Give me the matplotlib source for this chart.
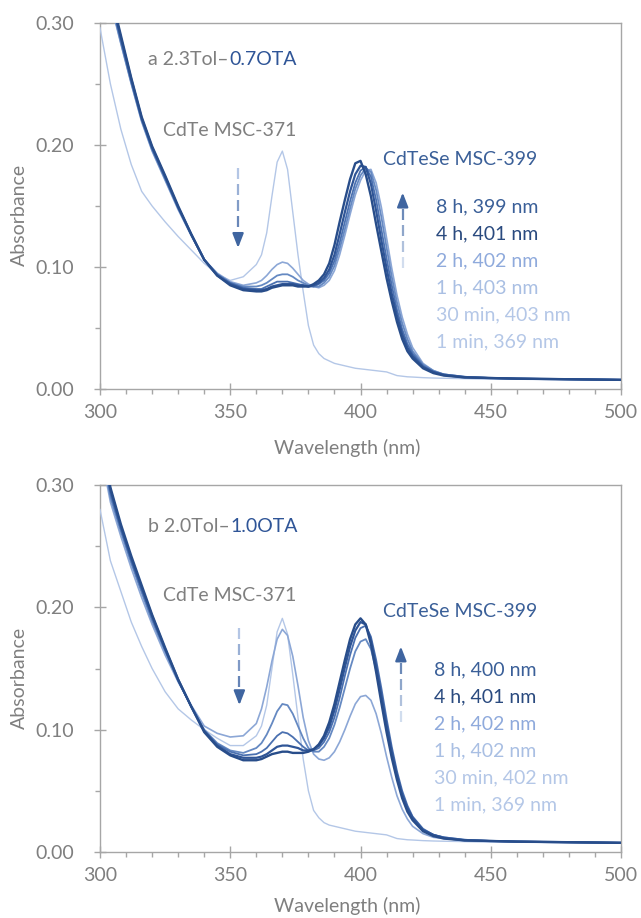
import matplotlib
matplotlib.use('Agg')
import matplotlib.pyplot as plt
import numpy as np
from matplotlib.ticker import MultipleLocator, FormatStrFormatter
from matplotlib.colors import to_rgb

plt.rcParams['font.family'] = ['Lato', 'DejaVu Sans']

# ---------------- data ----------------
wavelength = [300, 304, 308, 312, 316, 320, 325, 330, 335, 340, 345, 350, 355, 360,
              362, 364, 366, 368, 370, 372, 374, 376, 378, 380, 382, 384, 386, 388, 390,
              392, 394, 396, 398, 400, 402, 404, 406, 408, 410, 412, 414, 416, 418, 420,
              424, 428, 432, 440, 450, 460, 480, 500]

series_labels_top = ['8 h, 399 nm', '4 h, 401 nm', '2 h, 402 nm', '1 h, 403 nm',
                     '30 min, 403 nm', '1 min, 369 nm']
series_labels_bot = ['8 h, 400 nm', '4 h, 401 nm', '2 h, 402 nm', '1 h, 402 nm',
                     '30 min, 402 nm', '1 min, 369 nm']

top_8h = [0.365, 0.325, 0.290, 0.255, 0.223, 0.199, 0.175, 0.150, 0.127, 0.106, 0.093, 0.085, 0.081, 0.080,
          0.080, 0.081, 0.083, 0.084, 0.085, 0.085, 0.085, 0.084, 0.084, 0.084, 0.086, 0.089, 0.094, 0.103, 0.118,
          0.137, 0.155, 0.172, 0.185, 0.187, 0.176, 0.158, 0.135, 0.113, 0.091, 0.072, 0.055, 0.041, 0.031, 0.025,
          0.017, 0.013, 0.011, 0.0095, 0.009, 0.0085, 0.008, 0.0075]
top_4h = [0.362, 0.323, 0.288, 0.254, 0.222, 0.198, 0.174, 0.149, 0.127, 0.106, 0.093, 0.086, 0.082, 0.081,
          0.081, 0.082, 0.084, 0.085, 0.086, 0.086, 0.086, 0.085, 0.085, 0.084, 0.085, 0.087, 0.091, 0.098, 0.110,
          0.127, 0.145, 0.162, 0.176, 0.183, 0.182, 0.168, 0.146, 0.122, 0.099, 0.078, 0.060, 0.045, 0.034, 0.027,
          0.018, 0.014, 0.0115, 0.0095, 0.009, 0.0085, 0.008, 0.0075]
top_2h = [0.360, 0.321, 0.286, 0.252, 0.221, 0.197, 0.173, 0.149, 0.127, 0.106, 0.094, 0.087, 0.083, 0.082,
          0.082, 0.084, 0.086, 0.088, 0.088, 0.088, 0.087, 0.086, 0.085, 0.084, 0.084, 0.086, 0.089, 0.095, 0.105,
          0.120, 0.137, 0.154, 0.169, 0.179, 0.182, 0.174, 0.155, 0.131, 0.107, 0.085, 0.065, 0.049, 0.037, 0.029,
          0.019, 0.014, 0.012, 0.010, 0.009, 0.0085, 0.008, 0.0075]
top_1h = [0.358, 0.319, 0.284, 0.251, 0.220, 0.196, 0.172, 0.148, 0.126, 0.106, 0.094, 0.087, 0.084, 0.084,
          0.085, 0.087, 0.090, 0.093, 0.094, 0.094, 0.092, 0.089, 0.087, 0.085, 0.084, 0.084, 0.087, 0.092, 0.101,
          0.115, 0.131, 0.148, 0.164, 0.175, 0.181, 0.178, 0.163, 0.141, 0.116, 0.092, 0.071, 0.054, 0.041, 0.031,
          0.020, 0.015, 0.012, 0.010, 0.009, 0.0085, 0.008, 0.0075]
top_30min = [0.356, 0.317, 0.283, 0.250, 0.219, 0.195, 0.171, 0.147, 0.126, 0.106, 0.095, 0.088, 0.085, 0.087,
             0.089, 0.093, 0.098, 0.102, 0.104, 0.103, 0.099, 0.094, 0.089, 0.086, 0.084, 0.083, 0.085, 0.089, 0.097,
             0.110, 0.126, 0.143, 0.159, 0.171, 0.179, 0.180, 0.169, 0.149, 0.124, 0.099, 0.077, 0.059, 0.045, 0.034,
             0.021, 0.015, 0.012, 0.010, 0.009, 0.0085, 0.008, 0.0075]
top_1min = [0.296, 0.250, 0.213, 0.184, 0.162, 0.150, 0.137, 0.125, 0.114, 0.103, 0.094, 0.089, 0.092, 0.102,
            0.110, 0.128, 0.158, 0.186, 0.195, 0.180, 0.145, 0.110, 0.080, 0.052, 0.036, 0.029, 0.025, 0.023, 0.021,
            0.020, 0.019, 0.018, 0.017, 0.0165, 0.016, 0.0155, 0.015, 0.0145, 0.014, 0.0125, 0.011, 0.0105, 0.010, 0.0098,
            0.0093, 0.009, 0.0088, 0.0085, 0.008, 0.008, 0.0075, 0.0075]

bot_8h = [0.345, 0.298, 0.268, 0.242, 0.218, 0.194, 0.167, 0.141, 0.119, 0.098, 0.086, 0.079, 0.075, 0.075,
          0.076, 0.078, 0.080, 0.081, 0.082, 0.082, 0.081, 0.081, 0.081, 0.082, 0.084, 0.088, 0.095, 0.106, 0.121,
          0.139, 0.157, 0.174, 0.186, 0.191, 0.186, 0.170, 0.147, 0.122, 0.098, 0.077, 0.059, 0.044, 0.033, 0.026,
          0.017, 0.013, 0.011, 0.0095, 0.009, 0.0085, 0.008, 0.0075]
bot_4h = [0.342, 0.296, 0.266, 0.240, 0.216, 0.193, 0.166, 0.141, 0.119, 0.099, 0.087, 0.080, 0.077, 0.077,
          0.078, 0.080, 0.083, 0.086, 0.087, 0.087, 0.086, 0.085, 0.083, 0.083, 0.084, 0.087, 0.093, 0.102, 0.116,
          0.133, 0.151, 0.168, 0.181, 0.188, 0.186, 0.173, 0.152, 0.128, 0.104, 0.082, 0.063, 0.047, 0.036, 0.028,
          0.018, 0.014, 0.0115, 0.0095, 0.009, 0.0085, 0.008, 0.0075]
bot_2h = [0.338, 0.293, 0.264, 0.238, 0.214, 0.191, 0.165, 0.140, 0.119, 0.099, 0.088, 0.082, 0.079, 0.080,
          0.082, 0.085, 0.090, 0.095, 0.098, 0.097, 0.094, 0.090, 0.086, 0.083, 0.083, 0.085, 0.090, 0.098, 0.110,
          0.126, 0.144, 0.161, 0.175, 0.183, 0.185, 0.176, 0.157, 0.134, 0.109, 0.086, 0.066, 0.050, 0.038, 0.029,
          0.019, 0.014, 0.012, 0.010, 0.009, 0.0085, 0.008, 0.0075]
bot_1h = [0.334, 0.290, 0.262, 0.236, 0.212, 0.189, 0.164, 0.140, 0.119, 0.100, 0.089, 0.083, 0.081, 0.085,
          0.089, 0.096, 0.105, 0.115, 0.121, 0.120, 0.113, 0.103, 0.093, 0.085, 0.082, 0.082, 0.086, 0.093, 0.104,
          0.118, 0.134, 0.150, 0.164, 0.172, 0.174, 0.166, 0.149, 0.127, 0.104, 0.082, 0.063, 0.048, 0.036, 0.028,
          0.018, 0.014, 0.012, 0.010, 0.009, 0.0085, 0.008, 0.0075]
bot_30min = [0.330, 0.286, 0.258, 0.232, 0.208, 0.186, 0.161, 0.139, 0.120, 0.103, 0.097, 0.094, 0.095, 0.105,
             0.117, 0.135, 0.156, 0.174, 0.182, 0.177, 0.160, 0.136, 0.110, 0.091, 0.080, 0.076, 0.075, 0.077, 0.082,
             0.090, 0.100, 0.111, 0.121, 0.127, 0.128, 0.124, 0.113, 0.097, 0.078, 0.061, 0.046, 0.035, 0.027, 0.021,
             0.015, 0.012, 0.011, 0.0095, 0.009, 0.0085, 0.008, 0.0075]
bot_1min = [0.280, 0.238, 0.213, 0.188, 0.168, 0.150, 0.131, 0.117, 0.108, 0.100, 0.093, 0.087, 0.087, 0.095,
            0.103, 0.120, 0.150, 0.180, 0.191, 0.178, 0.145, 0.110, 0.076, 0.050, 0.034, 0.028, 0.024, 0.022, 0.021,
            0.020, 0.019, 0.018, 0.017, 0.0165, 0.016, 0.0155, 0.015, 0.0145, 0.014, 0.0125, 0.011, 0.0105, 0.010, 0.0098,
            0.0093, 0.009, 0.0088, 0.0085, 0.008, 0.008, 0.0075, 0.0075]

# ---------------- style ----------------
line_colors = ['#284D8A', '#2F5597', '#4A70B0', '#6589C2', '#8CA7D6', '#B4C7E7']
line_widths = [1.7, 1.6, 1.3, 1.3, 1.2, 1.0]
text_colors = ['#3A5F98', '#2A4A7F', '#8FAADC', '#A9BFE3', '#B4C7E7', '#B4C7E7']
GRAY = '#7F7F7F'
AXGRAY = '#A6A6A6'
BLUE = '#2F5597'
FS = 14

W, H = 641, 918
fig = plt.figure(figsize=(W / 100, H / 100), dpi=100)


def fx(px):
    return px / W


def fy(py):
    return 1 - py / H


ax_top = fig.add_axes([fx(100), fy(389), fx(621) - fx(100), fy(23) - fy(389)])
ax_bot = fig.add_axes([fx(100), fy(852), fx(621) - fx(100), fy(485) - fy(852)])


def style(ax):
    ax.set_xlim(300, 500)
    ax.set_ylim(0, 0.30)
    for s in ax.spines.values():
        s.set_color(AXGRAY)
        s.set_linewidth(1.0)
    ax.xaxis.set_major_locator(MultipleLocator(50))
    ax.xaxis.set_minor_locator(MultipleLocator(10))
    ax.yaxis.set_major_locator(MultipleLocator(0.10))
    ax.yaxis.set_minor_locator(MultipleLocator(0.05))
    ax.yaxis.set_major_formatter(FormatStrFormatter('%.2f'))
    ax.tick_params(which='major', direction='inout', length=9, width=1.0, color=AXGRAY,
                   labelsize=FS, labelcolor=GRAY)
    ax.tick_params(which='minor', direction='out', length=3.5, width=1.0, color=AXGRAY)
    ax.tick_params(axis='y', which='major', pad=14)
    ax.tick_params(axis='x', which='major', pad=6.5)


def mix(c1, c2, t):
    a = np.array(to_rgb(c1))
    b = np.array(to_rgb(c2))
    return tuple(a + (b - a) * t)


def grad_arrow(ax, x, y_start, y_tip, c_light, c_dark):
    ppu = ax.bbox.height / 0.30
    dash, gap, head = 11 / ppu, 5 / ppu, 12 / ppu
    sign = 1 if y_tip > y_start else -1
    total = abs(y_tip - y_start) - head
    pos = 0.0
    while pos < total:
        a, b = pos, min(pos + dash, total)
        t = (a + b) / 2 / (total + head)
        ax.plot([x, x], [y_start + sign * a, y_start + sign * b], color=mix(c_light, c_dark, t),
                lw=1.6, solid_capstyle='butt', zorder=5)
        pos += dash + gap
    ax.annotate('', xy=(x, y_tip), xytext=(x, y_tip - sign * head),
                arrowprops=dict(arrowstyle='-|>,head_length=0.85,head_width=0.33', color=c_dark,
                                lw=1.6, shrinkA=0, shrinkB=0), zorder=5)


def panel(ax, curves, labels, title_a, title_b, ty, cdte_y, cdtese_y, leg_y0, leg_x,
          down, up):
    style(ax)
    for i in range(len(curves) - 1, -1, -1):
        ax.plot(wavelength, curves[i], color=line_colors[i], lw=line_widths[i], zorder=3 + (5 - i) * 0.1)
    t1 = ax.text(318.6, ty, title_a, color=GRAY, fontsize=FS, va='center', ha='left')
    ax.annotate(title_b, xy=(1, 0), xycoords=t1, va='bottom', ha='left', color=BLUE, fontsize=FS)
    ax.text(324.0, cdte_y, 'CdTe MSC-371', color=GRAY, fontsize=FS, va='center', ha='left')
    ax.text(408.6, cdtese_y, 'CdTeSe MSC-399', color='#3A5F98', fontsize=FS, va='center', ha='left')
    step = 27 / (ax.bbox.height / 0.30)
    for i, lab in enumerate(labels):
        ax.text(leg_x, leg_y0 - i * step, lab, color=text_colors[i], fontsize=FS, va='center', ha='left')
    grad_arrow(ax, down[0], down[1], down[2], '#BDCDEA', '#3F65A0')
    grad_arrow(ax, up[0], up[1], up[2], '#DDE6F4', '#3F65A0')


panel(ax_top, [top_8h, top_4h, top_2h, top_1h, top_30min, top_1min], series_labels_top,
      'a 2.3Tol\u2013', '0.7OTA', 0.270, 0.212, 0.188, 0.1494, 429.0,
      (353.0, 0.181, 0.1156), (416.2, 0.099, 0.161))
panel(ax_bot, [bot_8h, bot_4h, bot_2h, bot_1h, bot_30min, bot_1min], series_labels_bot,
      'b 2.0Tol\u2013', '1.0OTA', 0.2657, 0.210, 0.1965, 0.1488, 428.4,
      (353.5, 0.183, 0.120), (415.5, 0.1066, 0.168))

# axis titles
for yc in (215, 678):
    fig.text(fx(19.5), fy(yc), 'Absorbance', rotation=90, ha='center', va='center',
             color=GRAY, fontsize=FS)
for yc in (448, 906):
    fig.text(fx(347), fy(yc), 'Wavelength (nm)', ha='center', va='center',
             color=GRAY, fontsize=FS)

fig.savefig('out.png', dpi=100)
